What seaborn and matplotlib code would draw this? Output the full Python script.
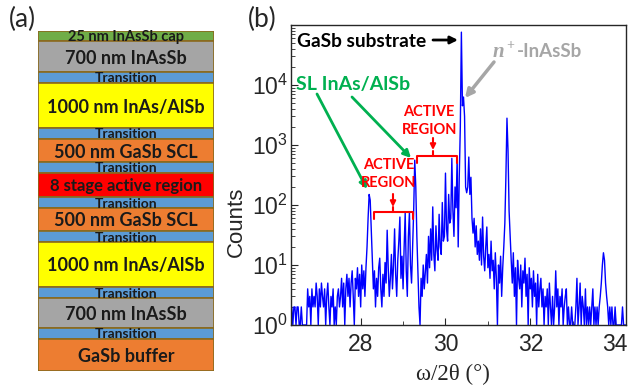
import numpy as np
import pandas as pd
import matplotlib
matplotlib.use("Agg")
import matplotlib.pyplot as plt
from matplotlib.patches import FancyArrowPatch
from matplotlib.lines import Line2D
from matplotlib.ticker import LogLocator, MultipleLocator, NullFormatter, FixedLocator
import seaborn as sns

# ==============================================
# DATA
# ==============================================

# (a) layer stack, top to bottom (drawn height in px)
layer_names = ["25 nm InAsSb cap", "700 nm InAsSb", "Transition", "1000 nm InAs/AlSb",
               "Transition", "500 nm GaSb SCL", "Transition", "8 stage active region",
               "Transition", "500 nm GaSb SCL", "Transition", "1000 nm InAs/AlSb",
               "Transition", "700 nm InAsSb", "Transition", "GaSb buffer"]
layer_height = [10, 31, 11, 45, 11, 23, 11, 24, 11, 23, 11, 45, 11, 30, 11, 32]
layer_colors = ["#70ad47", "#a5a5a5", "#5b9bd5", "#ffff00",
                "#5b9bd5", "#ed7d31", "#5b9bd5", "#ff0000",
                "#5b9bd5", "#ed7d31", "#5b9bd5", "#ffff00",
                "#5b9bd5", "#a5a5a5", "#5b9bd5", "#ed7d31"]

# (b) XRD omega/2theta scan, 0.025 deg steps, each block starts at given angle
step = 0.025
bg_left_start = 26.35
bg_left = [2, 2, 1, 2, 2, 1, 2, 2, 1, 1, 2,
           1, 1, 1, 1, 1,
           4, 2, 3, 1, 4, 2,
           3, 2, 5, 3, 1, 4, 2, 5, 3, 2, 4, 1, 3, 5,
           2, 1, 3, 2, 4, 1, 2, 1, 3, 4,
           2, 3, 6, 2, 5, 1, 4, 7, 3, 6, 2, 5, 8, 3, 1, 6,
           4, 9, 3, 7, 2, 10, 4, 8, 3, 9]
sl1_start = 28.15
sl1 = [20, 60, 150, 120, 40, 12]
sat1_start = 28.30
sat1 = [4, 8, 2, 6, 3, 9, 13, 4, 2, 7, 3, 11, 5, 38, 9, 3, 6, 15, 4, 10,
        40, 7, 3, 12, 25, 63, 6, 14, 4, 20, 74, 8, 3, 30, 76, 10, 5, 20]
sl2_start = 29.25
sl2 = [80, 560, 200, 30, 8]
sat2_start = 29.375
sat2 = [2, 1, 6, 3, 10, 4, 8, 15, 5, 30, 9, 40, 12, 93, 15, 8, 45, 18, 12, 70,
        20, 15, 110, 25, 30, 340, 40, 25, 150, 50, 60, 600, 80, 30, 200, 90, 600, 20, 300]
sub_start = 30.35
sub = [2000, 76000, 4500, 6300, 3000, 200, 160, 200, 630, 150, 290, 60]
tail1_start = 30.65
tail1 = [34, 60, 20, 45, 15, 25, 12, 40, 10, 63, 14, 8, 20, 43, 9, 15, 6, 25, 8, 12,
         4, 16, 6, 1, 10, 5, 14, 3, 9, 20]
pk315_start = 31.40
pk315 = [50, 300, 2800, 800, 80, 30]
tail2_start = 31.55
tail2 = [12, 5, 16, 3, 9, 1, 12, 6, 4, 10, 2, 8, 5, 13, 3, 7, 1, 9, 4, 6, 2, 8, 3, 5, 1, 7, 2, 4,
         6, 2, 4, 1, 3, 2, 4, 1, 5, 2, 1, 3, 1,
         2, 8, 2, 4, 1, 3, 2, 4, 1, 2, 3, 4, 1, 2,
         1, 1, 2, 1, 1, 1, 2,
         6, 1, 2, 5, 1, 3, 2, 1, 4, 1, 2, 1,
         2, 1, 2, 4, 1, 2, 1, 2, 1, 2, 3]
pk337_start = 33.675
pk337 = [5, 10, 16, 12, 5, 3]
bg_right_start = 33.825
bg_right = [2, 1, 2, 1, 2, 1, 1, 2, 1, 1, 1, 1, 1, 1, 2, 1, 1, 1]

y_ticks = [1, 10, 100, 1000, 10000]

blocks = [(bg_left_start, bg_left), (sl1_start, sl1), (sat1_start, sat1), (sl2_start, sl2),
          (sat2_start, sat2), (sub_start, sub), (tail1_start, tail1), (pk315_start, pk315),
          (tail2_start, tail2), (pk337_start, pk337), (bg_right_start, bg_right)]
parts = []
for start, vals in blocks:
    parts.append(pd.DataFrame({"angle": start + step * np.arange(len(vals)), "counts": vals}))
xrd = pd.concat(parts, ignore_index=True)

# ==============================================
# STYLE
# ==============================================

sns.set_style("ticks")
plt.rcParams["font.family"] = ["Liberation Sans", "DejaVu Sans"]
plt.rcParams["mathtext.fontset"] = "custom"
plt.rcParams["mathtext.rm"] = "Liberation Sans"
plt.rcParams["mathtext.it"] = "Liberation Sans:italic"
plt.rcParams["mathtext.bf"] = "Liberation Sans:bold"

W, H = 628, 388
fig = plt.figure(figsize=(W / 100, H / 100), dpi=100)


def fx(x):
    return x / W


def fy(y):
    return 1 - y / H


def ftext(x, y, s, **kw):
    fig.text(fx(x), fy(y), s, **kw)


def farrow(x0, y0, x1, y1, color, lw=2, ms=12):
    fig.add_artist(FancyArrowPatch((fx(x0), fy(y0)), (fx(x1), fy(y1)), transform=fig.transFigure,
                                   arrowstyle="-|>", mutation_scale=ms, color=color, lw=lw,
                                   shrinkA=0, shrinkB=0))


def fbracket(x0, x1, xm, y, drop, nub, color):
    fig.add_artist(Line2D([fx(x0), fx(x0), fx(x1), fx(x1)], [fy(y + drop), fy(y), fy(y), fy(y + drop)],
                          transform=fig.transFigure, color=color, lw=1.5))
    fig.add_artist(Line2D([fx(xm), fx(xm)], [fy(y), fy(y - nub)],
                          transform=fig.transFigure, color=color, lw=1.5))


# ==============================================
# (a) LAYER STACK
# ==============================================

ax_a = fig.add_axes([fx(38), fy(371), fx(214) - fx(38), sum(layer_height) / H])
bottoms = np.concatenate([[0], np.cumsum(layer_height)[:-1]])
ax_a.bar(np.zeros(len(layer_height)), layer_height, bottom=bottoms, width=1,
         color=layer_colors, edgecolor="#8a6a1e", linewidth=1.2)
ax_a.set_xlim(-0.5, 0.5)
ax_a.set_ylim(sum(layer_height), 0)
ax_a.axis("off")

for name, b, h in zip(layer_names, bottoms, layer_height):
    if name == "Transition":
        fs = 10
    elif "cap" in name:
        fs = 10.5
    elif "stage" in name:
        fs = 12
    else:
        fs = 13
    ax_a.text(0, b + h / 2, name, ha="center", va="center_baseline", fontsize=fs,
              family="Lato", weight="bold", color="#1a1a1a")

ftext(9, 27, "(a)", fontsize=19, family="Lato")
ftext(248, 27, "(b)", fontsize=19, family="Lato")

# ==============================================
# (b) XRD SCAN
# ==============================================

ax = fig.add_axes([fx(290.7), fy(325), (625.7 - 290.7) / W, 300 / H])
sns.lineplot(data=xrd, x="angle", y="counts", ax=ax, color="#0000ff", linewidth=1.0,
             estimator=None, sort=False)
ax.set_yscale("log")
ax.set_xlim(26.35, 34.25)
ax.set_ylim(1, 1e5)

ax.xaxis.set_major_locator(MultipleLocator(2))
ax.xaxis.set_minor_locator(MultipleLocator(1))
ax.yaxis.set_major_locator(FixedLocator(y_ticks))
ax.yaxis.set_minor_locator(LogLocator(base=10, subs=np.arange(2, 10), numticks=20))
ax.yaxis.set_minor_formatter(NullFormatter())
ax.tick_params(which="both", direction="in", top=False, right=False, labelsize=16.5, color="0.15")
ax.tick_params(axis="x", which="major", length=5, pad=6)
ax.tick_params(axis="y", which="major", length=5, pad=2)
ax.tick_params(which="minor", length=3)
for s in ax.spines.values():
    s.set_color("0.15")
    s.set_linewidth(1)

ax.set_ylabel("Counts", fontsize=16)
ax.yaxis.set_label_coords(-0.13, 0.345)
ax.set_xlabel("ω/2θ (°)", fontsize=16.5, family="Liberation Serif")
ax.xaxis.set_label_coords(0.484, -0.13)

# annotations
ftext(297, 46.7, "GaSb substrate", fontsize=13.8, family="Lato", weight="bold", color="black")
farrow(433, 40, 458, 40, "black", lw=2, ms=11)

ftext(493, 57, "n", fontsize=15, family="Liberation Serif", style="italic", weight="bold", color="#a6a6a6")
ftext(506, 49, "+", fontsize=10, family="Liberation Serif", weight="bold", color="#a6a6a6")
ftext(517, 57, "-InAsSb", fontsize=13.5, family="Lato", weight="bold", color="#a6a6a6")
farrow(494, 62, 465, 98, "#a6a6a6", lw=2.5, ms=12)

ftext(296, 90, "SL InAs/AlSb", fontsize=14, family="Lato", weight="bold", color="#00b050")
farrow(317, 94, 367, 189, "#00b050", lw=2, ms=11)
farrow(352, 97, 411, 158, "#00b050", lw=2, ms=11)

red = "#ff0000"
ftext(389, 169, "ACTIVE", ha="center", fontsize=10.5, family="Lato", weight="bold", color=red)
ftext(389, 187, "REGION", ha="center", fontsize=10.5, family="Lato", weight="bold", color=red)
farrow(393, 194, 393, 207, red, lw=1.5, ms=8)
fbracket(374, 413, 393, 212, 7, 5, red)

ftext(429, 116.5, "ACTIVE", ha="center", fontsize=10.5, family="Lato", weight="bold", color=red)
ftext(430, 134, "REGION", ha="center", fontsize=10.5, family="Lato", weight="bold", color=red)
farrow(433, 138, 433, 150, red, lw=1.5, ms=8)
fbracket(417, 457, 433, 156, 7, 5, red)

plt.savefig("out.png", dpi=100)
